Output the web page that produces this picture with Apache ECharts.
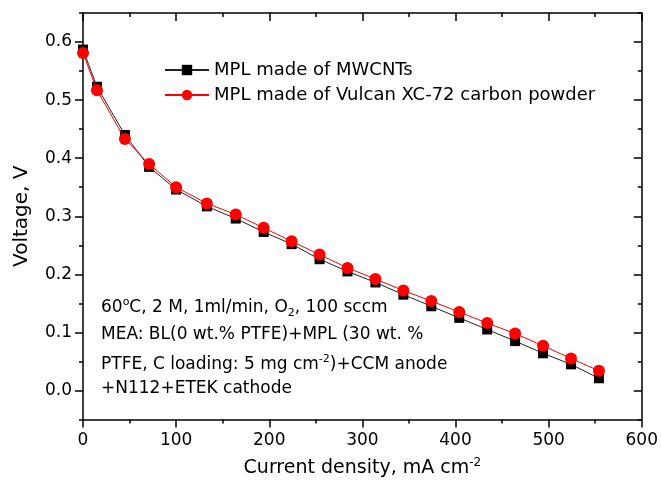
<!DOCTYPE html>
<html>
<head>
<meta charset="utf-8">
<script src="https://cdn.jsdelivr.net/npm/echarts@6/dist/echarts.min.js"></script>
<style>
html,body{margin:0;padding:0;background:#fff;}
#chart{width:661px;height:483px;}
</style>
</head>
<body>
<div id="chart"></div>
<script>
// ---- data ----
const currentDensity = [0, 15, 45, 71, 100, 133, 164, 194, 224, 254, 284, 314, 344, 374, 404, 434, 464, 494, 524, 554];
const voltageMWCNT  = [0.587, 0.523, 0.440, 0.385, 0.346, 0.317, 0.296, 0.273, 0.252, 0.226, 0.205, 0.186, 0.165, 0.145, 0.125, 0.105, 0.085, 0.064, 0.045, 0.021];
const voltageVulcan = [0.581, 0.517, 0.433, 0.390, 0.350, 0.322, 0.303, 0.280, 0.257, 0.234, 0.211, 0.192, 0.172, 0.154, 0.135, 0.116, 0.098, 0.077, 0.055, 0.034];
const seriesNames = ['MPL made of MWCNTs', 'MPL made of Vulcan XC-72 carbon powder'];
const yMajorTicks = [0, 0.1, 0.2, 0.3, 0.4, 0.5, 0.6];
const annotationLines = [
  '{t|60}{sup|o}{t|C, 2 M, 1ml/min, O}{sub|2}{t|, 100 sccm}',
  '{t|MEA: BL(0 wt.% PTFE)+MPL (30 wt. %}',
  '{t|PTFE, C loading: 5 mg cm}{sup|-2}{t|)+CCM anode}',
  '{t|+N112+ETEK cathode}'
];

const FONT = 'DejaVu Sans';
const axisColor = '#000';
const lineStyle = {color: axisColor, width: 1.5};

function pair(arrX, arrY){ return arrX.map((x,i)=>[x, arrY[i]]); }

const richText = {
  t:   {fontSize: 17, fontFamily: FONT, color: '#000', lineHeight: 22},
  sup: {fontSize: 11, fontFamily: FONT, color: '#000', verticalAlign: 'top', lineHeight: 11},
  sub: {fontSize: 11, fontFamily: FONT, color: '#000', verticalAlign: 'bottom', lineHeight: 11}
};

const annotationY = [308, 337, 365, 391];

const chart = echarts.init(document.getElementById('chart'), null, {renderer: 'canvas'});
chart.setOption({
  animation: false,
  backgroundColor: '#fff',
  grid: {left: 83, right: 19, top: 13, bottom: 60, containLabel: false},
  legend: {
    orient: 'vertical', left: 159, top: 56,
    itemWidth: 44, itemHeight: 13, itemGap: 7,
    textStyle: {fontSize: 18, fontFamily: FONT, color: '#000'},
    data: seriesNames
  },
  xAxis: [
    {
      type: 'value', position: 'bottom', min: 0, max: 600, interval: 100,
      axisLine: {show: true, onZero: false, lineStyle: lineStyle},
      axisTick: {show: true, inside: false, length: 8, lineStyle: lineStyle},
      minorTick: {show: true, splitNumber: 2, length: 4, lineStyle: lineStyle},
      axisLabel: {show: true, margin: 13, fontSize: 17, fontFamily: FONT, color: '#000'},
      splitLine: {show: false},
      name: '{t|Current density, mA cm}{sup|-2}',
      nameLocation: 'middle', nameGap: 37,
      nameTextStyle: {
        rich: {
          t: {fontSize: 19, fontFamily: FONT, color: '#000', lineHeight: 24},
          sup: {fontSize: 12, fontFamily: FONT, color: '#000', verticalAlign: 'top', lineHeight: 12}
        }
      }
    },
    {
      type: 'value', position: 'top', min: 0, max: 600, interval: 100,
      axisLine: {show: true, onZero: false, lineStyle: lineStyle},
      axisTick: {show: true, inside: true, length: 8, lineStyle: lineStyle},
      minorTick: {show: true, splitNumber: 2, length: 4, lineStyle: lineStyle},
      axisLabel: {show: false},
      splitLine: {show: false}
    }
  ],
  yAxis: [
    {
      type: 'value', position: 'left', min: -0.05, max: 0.65,
      axisLine: {show: true, onZero: false, lineStyle: lineStyle},
      axisTick: {show: true, inside: false, length: 8, customValues: yMajorTicks, lineStyle: lineStyle},
      axisLabel: {show: true, margin: 11, customValues: yMajorTicks, fontSize: 17, fontFamily: FONT, color: '#000',
                  formatter: v => v.toFixed(1)},
      splitLine: {show: false},
      name: 'Voltage, V', nameLocation: 'middle', nameRotate: 90, nameGap: 51,
      nameTextStyle: {fontSize: 20, fontFamily: FONT, color: '#000'}
    },
    {
      type: 'value', position: 'left', min: -0.05, max: 0.65, interval: 0.05,
      axisLine: {show: false, onZero: false},
      axisTick: {show: true, inside: false, length: 4, lineStyle: lineStyle},
      axisLabel: {show: false},
      splitLine: {show: false}
    },
    {
      type: 'value', position: 'right', min: -0.05, max: 0.65,
      axisLine: {show: true, onZero: false, lineStyle: lineStyle},
      axisTick: {show: true, inside: true, length: 8, customValues: yMajorTicks, lineStyle: lineStyle},
      axisLabel: {show: false, customValues: yMajorTicks},
      splitLine: {show: false}
    },
    {
      type: 'value', position: 'right', min: -0.05, max: 0.65, interval: 0.05,
      axisLine: {show: false, onZero: false},
      axisTick: {show: true, inside: true, length: 4, lineStyle: lineStyle},
      axisLabel: {show: false},
      splitLine: {show: false}
    }
  ],
  series: [
    {
      name: seriesNames[0], type: 'line', xAxisIndex: 0, yAxisIndex: 0,
      data: pair(currentDensity, voltageMWCNT),
      symbol: 'rect', symbolSize: 10,
      lineStyle: {color: '#222', width: 1},
      itemStyle: {color: '#000'},
      z: 2
    },
    {
      name: seriesNames[1], type: 'line', xAxisIndex: 0, yAxisIndex: 0,
      data: pair(currentDensity, voltageVulcan),
      symbol: 'circle', symbolSize: 12,
      lineStyle: {color: '#ff0000', width: 1},
      itemStyle: {color: '#ff0000'},
      z: 3
    }
  ],
  graphic: annotationLines.map((txt, i) => ({
    type: 'text', left: 101, top: annotationY[i] - 11, z: 10,
    style: {text: txt, rich: richText, fill: '#000'}
  }))
});
</script>
</body>
</html>
